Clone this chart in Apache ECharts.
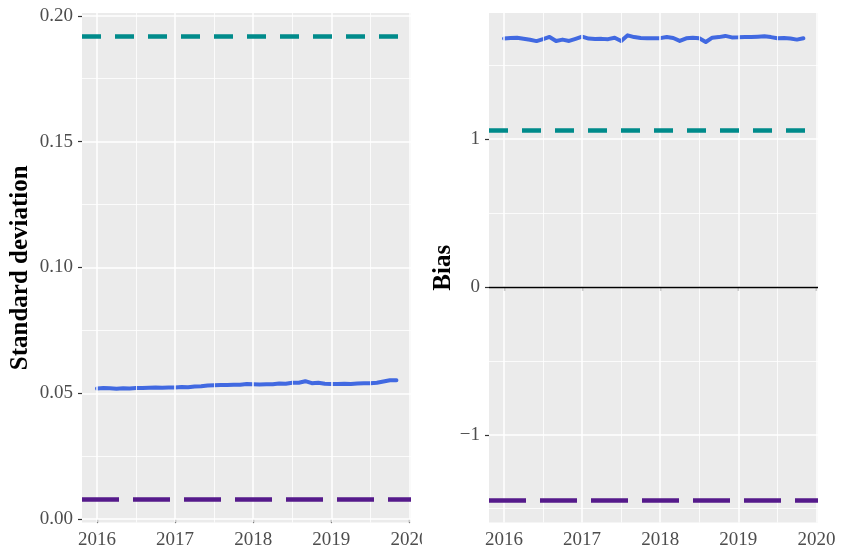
<!DOCTYPE html>
<html><head><meta charset="utf-8">
<script src="https://cdn.jsdelivr.net/npm/echarts@6/dist/echarts.min.js"></script>
<style>html,body{margin:0;padding:0;background:#fff}#c{width:841px;height:548px}</style>
</head><body><div id="c"></div>
<script>
// ---- data ----
const startYear = 2016;           // first monthly observation (Jan 2016)
const sdValues = [
  0.0519,0.0521,0.0520,0.0518,0.0520,0.0519,0.0521,0.0521,0.0522,0.0523,0.0522,0.0523,
  0.0523,0.0525,0.0524,0.0527,0.0528,0.0531,0.0532,0.0533,0.0533,0.0534,0.0534,0.0537,
  0.0536,0.0535,0.0536,0.0536,0.0539,0.0538,0.0542,0.0542,0.0548,0.0540,0.0542,0.0538,
  0.0537,0.0537,0.0538,0.0537,0.0539,0.0540,0.0540,0.0542,0.0547,0.0552,0.0552
];
const biasValues = [
  1.680,1.684,1.686,1.679,1.672,1.663,1.676,1.691,1.664,1.673,1.664,1.678,
  1.693,1.680,1.677,1.678,1.676,1.686,1.664,1.702,1.690,1.684,1.683,1.682,
  1.683,1.691,1.684,1.664,1.682,1.686,1.682,1.657,1.686,1.690,1.698,1.688,
  1.689,1.691,1.691,1.693,1.695,1.690,1.682,1.684,1.680,1.673,1.682
];
const sdRefHigh = 0.192, sdRefLow = 0.0077;
const biasRefHigh = 1.063, biasRefLow = -1.44, biasZero = 0;
const xTicks = [2016, 2017, 2018, 2019, 2020];
const xMinor = [2016.5, 2017.5, 2018.5, 2019.5];
const sdTicks = [0, 0.05, 0.10, 0.15, 0.20];
const sdMinor = [0.025, 0.075, 0.125, 0.175];
const biasTicks = [-1, 0, 1];
const biasMinor = [-1.5, -0.5, 0.5, 1.5];

// ---- build ----
const font = 'Liberation Serif';
const toPts = vals => vals.map((v, i) => [startYear + i / 12, v]);
const teal = '#008B8B', purple = '#551A8B', blue = '#4169E1';

function xAxisCfg(gi) {
  return {
    type: 'value', gridIndex: gi, min: 2015.808, max: 2020.02,
    axisLine: { show: false },
    splitLine: { show: false },
    axisTick: { show: true, customValues: xTicks, length: 4, lineStyle: { color: '#333', width: 1.2 } },
    axisLabel: { customValues: xTicks, margin: 8, color: '#4D4D4D', fontFamily: font, fontSize: 19,
      formatter: v => String(Math.round(v)) }
  };
}
function yAxisCfg(gi, min, max, ticks, fmt, name, gap) {
  return {
    type: 'value', gridIndex: gi, min: min, max: max,
    name: name, nameLocation: 'middle', nameGap: gap,
    nameTextStyle: { fontFamily: font, fontWeight: 'bold', fontSize: 25, color: '#000' },
    axisLine: { show: false },
    splitLine: { show: false },
    axisTick: { show: true, customValues: ticks, length: 4, lineStyle: { color: '#333', width: 1.2 } },
    axisLabel: { customValues: ticks, margin: 9, color: '#4D4D4D', fontFamily: font, fontSize: 19, formatter: fmt }
  };
}
function gridLines(gi, yMajor, yMinor) {
  const d = [];
  xMinor.forEach(v => d.push({ xAxis: v, lineStyle: { width: 0.8 } }));
  yMinor.forEach(v => d.push({ yAxis: v, lineStyle: { width: 0.8 } }));
  xTicks.forEach(v => d.push({ xAxis: v, lineStyle: { width: 1.5 } }));
  yMajor.forEach(v => d.push({ yAxis: v, lineStyle: { width: 1.5 } }));
  return {
    type: 'line', xAxisIndex: gi, yAxisIndex: gi, data: [], z: 1, silent: true,
    markLine: { silent: true, precision: 8, symbol: ['none', 'none'], label: { show: false }, animation: false,
      lineStyle: { color: '#FFFFFF', type: 'solid' }, emphasis: { disabled: true }, data: d }
  };
}
function refLine(gi, y, color, dash, width) {
  return {
    type: 'line', xAxisIndex: gi, yAxisIndex: gi, data: [], z: 2, silent: true,
    markLine: { silent: true, precision: 8, symbol: ['none', 'none'], label: { show: false }, animation: false,
      emphasis: { disabled: true },
      lineStyle: { color: color, type: dash, width: width },
      data: [{ yAxis: y }] }
  };
}
function dataLine(gi, vals) {
  return {
    type: 'line', xAxisIndex: gi, yAxisIndex: gi, data: toPts(vals), z: 3,
    showSymbol: false, symbol: 'none', silent: true, animation: false,
    lineStyle: { color: blue, width: 4, join: 'round', cap: 'round' }
  };
}

const chart = echarts.init(document.getElementById('c'), null, { renderer: 'canvas' });
chart.setOption({
  backgroundColor: '#FFFFFF',
  animation: false,
  grid: [
    { left: 82, right: 430, top: 13, bottom: 25.5, show: true, backgroundColor: '#EBEBEB', borderWidth: 0,
      containLabel: false, outerBoundsMode: 'none' },
    { left: 489, right: 23, top: 13, bottom: 25.5, show: true, backgroundColor: '#EBEBEB', borderWidth: 0,
      containLabel: false, outerBoundsMode: 'none' }
  ],
  xAxis: [xAxisCfg(0), xAxisCfg(1)],
  yAxis: [
    yAxisCfg(0, -0.00135, 0.2011, sdTicks, v => v.toFixed(2), 'Standard deviation', 49),
    yAxisCfg(1, -1.593, 1.853, biasTicks, v => (v < 0 ? '\u2212' + Math.abs(v) : String(v)), 'Bias', 33)
  ],
  series: [
    gridLines(0, sdTicks, sdMinor),
    gridLines(1, biasTicks, biasMinor),
    refLine(0, sdRefHigh, teal, [19, 14], 4.5),
    refLine(0, sdRefLow, purple, [37, 14], 4.5),
    refLine(1, biasZero, '#000000', 'solid', 1.4),
    refLine(1, biasRefHigh, teal, [19, 14], 4.5),
    refLine(1, biasRefLow, purple, [37, 14], 4.5),
    dataLine(0, sdValues),
    dataLine(1, biasValues)
  ],
  graphic: [
    { type: 'rect', shape: { x: 422, y: 529, width: 50, height: 19 }, style: { fill: '#FFFFFF' }, z: 100 }
  ]
});
</script></body></html>
